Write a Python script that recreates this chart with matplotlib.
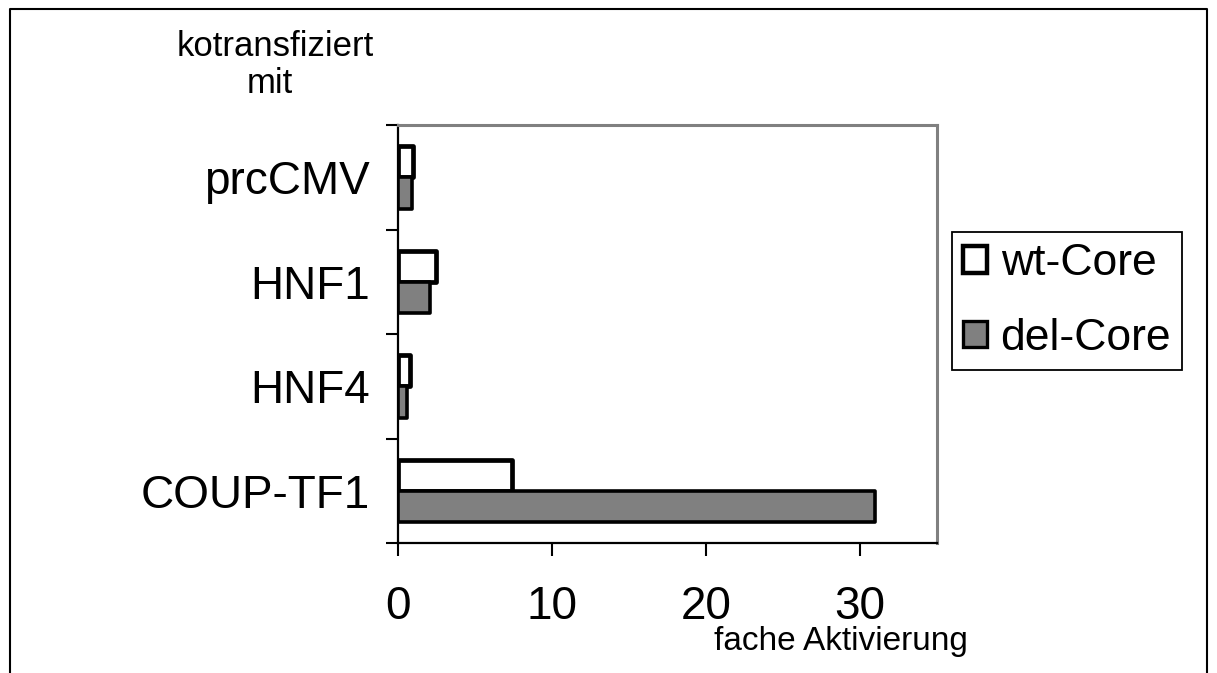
import numpy as np
import matplotlib
matplotlib.use("Agg")
import matplotlib.pyplot as plt
from matplotlib.patches import Patch
from matplotlib.lines import Line2D

plt.rcParams["font.family"] = ["Liberation Sans", "DejaVu Sans"]

# Daten (von unten nach oben)
categories = ["COUP-TF1", "HNF4", "HNF1", "prcCMV"]
wt_core = [7.4, 0.8, 2.5, 1.0]
del_core = [31.0, 0.6, 2.1, 0.9]
series_names = ["wt-Core", "del-Core"]
x_ticks = [0, 10, 20, 30]

fig = plt.figure(figsize=(12.17, 6.73), dpi=100)
ax = fig.add_axes([0.327, 0.193, 0.443, 0.621])

y = np.arange(len(categories))
h = 0.3
ax.barh(y + h / 2, wt_core, height=h, color="white", edgecolor="black",
        linewidth=3.4, joinstyle="round", zorder=3)
ax.barh(y - h / 2, del_core, height=h, color="#808080", edgecolor="black",
        linewidth=2.6, joinstyle="round", zorder=3)

ax.set_xlim(0, 35)
ax.set_ylim(-0.5, len(categories) - 0.5)

# Achsen im Excel-Stil
ax.spines["top"].set_color("#808080")
ax.spines["right"].set_color("#808080")
ax.spines["top"].set_linewidth(2.2)
ax.spines["right"].set_linewidth(2.2)
ax.spines["left"].set_linewidth(1.6)
ax.spines["bottom"].set_linewidth(1.6)

ax.set_xticks(x_ticks)
ax.set_xticklabels([str(t) for t in x_ticks], fontsize=33)
ax.set_yticks(y)
ax.set_yticklabels(categories, fontsize=33)
ax.set_yticks(np.arange(-0.5, len(categories)), minor=True)
ax.tick_params(axis="y", which="major", length=0, pad=20)
ax.tick_params(axis="y", which="minor", length=9, width=1.5, direction="out")
ax.tick_params(axis="x", which="major", length=9, width=1.5, direction="out", pad=21)

# Beschriftungen
fig.text(0.226, 0.931, "kotransfiziert", fontsize=25, ha="center", va="center")
fig.text(0.222, 0.876, "mit", fontsize=25, ha="center", va="center")
fig.text(0.691, 0.047, "fache Aktivierung", fontsize=24, ha="center", va="center")

# Legende
handles = [Patch(facecolor="white", edgecolor="black", linewidth=3.2),
           Patch(facecolor="#808080", edgecolor="black", linewidth=2.4)]
leg = fig.legend(handles, series_names, loc="upper left",
                 bbox_to_anchor=(0.782, 0.655), fontsize=32, frameon=True,
                 fancybox=False, edgecolor="black", framealpha=1,
                 handlelength=0.55, handleheight=0.55, handletextpad=0.3,
                 borderpad=0.25, labelspacing=0.75, borderaxespad=0)
leg.get_frame().set_linewidth(1.3)

# äußerer Rahmen
fig.add_artist(Line2D([0.0082, 0.0082, 0.9918, 0.9918], [0.0, 0.986, 0.986, 0.0],
                      transform=fig.transFigure, color="black", linewidth=1.5))

fig.savefig("out.png", dpi=100)
